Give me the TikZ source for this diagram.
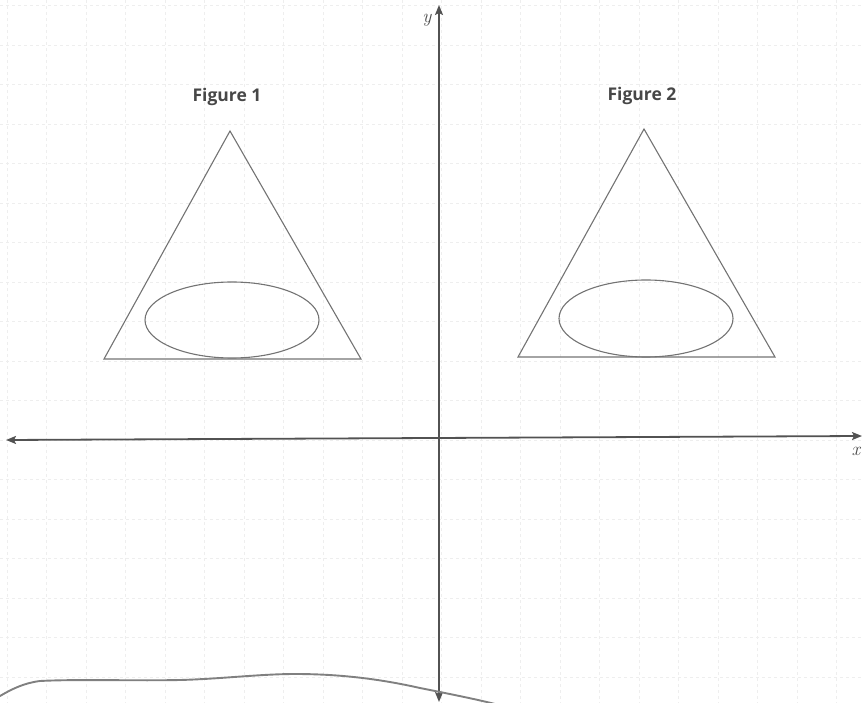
\documentclass[tikz,border=0pt]{standalone}
\usepackage{fontspec}
\newfontfamily\labfont{Open Sans}
\usetikzlibrary{arrows.meta,shapes.geometric}
\begin{document}
\begin{tikzpicture}[x=1pt,y=-1pt,
  gridline/.style={draw=gray!13, line width=0.6pt, dash pattern=on 3pt off 3pt},
  axisline/.style={draw=black!68, line width=1.8pt, {Stealth[length=10pt,width=8pt,inset=2pt]}-{Stealth[length=10pt,width=8pt,inset=2pt]}},
  shapeline/.style={draw=black!55, line width=1.1pt},
  figlabel/.style={font=\labfont\bfseries\fontsize{17.5}{20}\selectfont, text=black!72, inner sep=0pt},
  axislabel/.style={font=\itshape\fontsize{19}{22}\selectfont, text=black!70, inner sep=0pt},
  handline/.style={draw=black!50, line width=1.9pt, line cap=round}]
\useasboundingbox (0,0) rectangle (863,703);
% faint grid
\foreach \k in {-11,...,11} {
  \draw[gridline] (441.5+39.5*\k,0) -- (441.5+39.5*\k,703);
}
\foreach \k in {-11,...,7} {
  \draw[gridline] (0,440+39.5*\k) -- (863,440+39.5*\k);
}
% axes
\coordinate (xl) at (6,440);
\coordinate (xr) at (862,436);
\coordinate (yt) at (439,5);
\coordinate (yb) at (439,702);
\draw[axisline] (xl) -- (xr);
\draw[axisline] (yb) -- (yt);
\node[axislabel] (ylab) at (427,20) {y};
\node[axislabel] (xlab) at (856,451) {x};
% figure 1
\coordinate (a1) at (230,131);
\coordinate (b1) at (104,359);
\coordinate (c1) at (361,359);
\draw[shapeline] (a1) -- (b1) -- (c1) -- cycle;
\node[shapeline, ellipse, minimum width=174pt, minimum height=76pt, inner sep=0pt] (e1) at (232,320) {};
\node[figlabel] (f1) at (227,97) {Figure 1};
% figure 2
\coordinate (a2) at (644,129);
\coordinate (b2) at (518,357);
\coordinate (c2) at (775,357);
\draw[shapeline] (a2) -- (b2) -- (c2) -- cycle;
\node[shapeline, ellipse, minimum width=174pt, minimum height=77pt, inner sep=0pt] (e2) at (646,318.5) {};
\node[figlabel] (f2) at (642,96) {Figure 2};
% hand-drawn stroke at bottom
\draw[handline] (0,696) .. controls (12,689) and (24,683) .. (40,681)
  .. controls (80,679) and (130,681) .. (180,680)
  .. controls (220,679) and (260,674) .. (295,674)
  .. controls (340,674) and (380,679) .. (420,688)
  .. controls (450,694) and (475,699) .. (495,704);
\end{tikzpicture}
\end{document}
